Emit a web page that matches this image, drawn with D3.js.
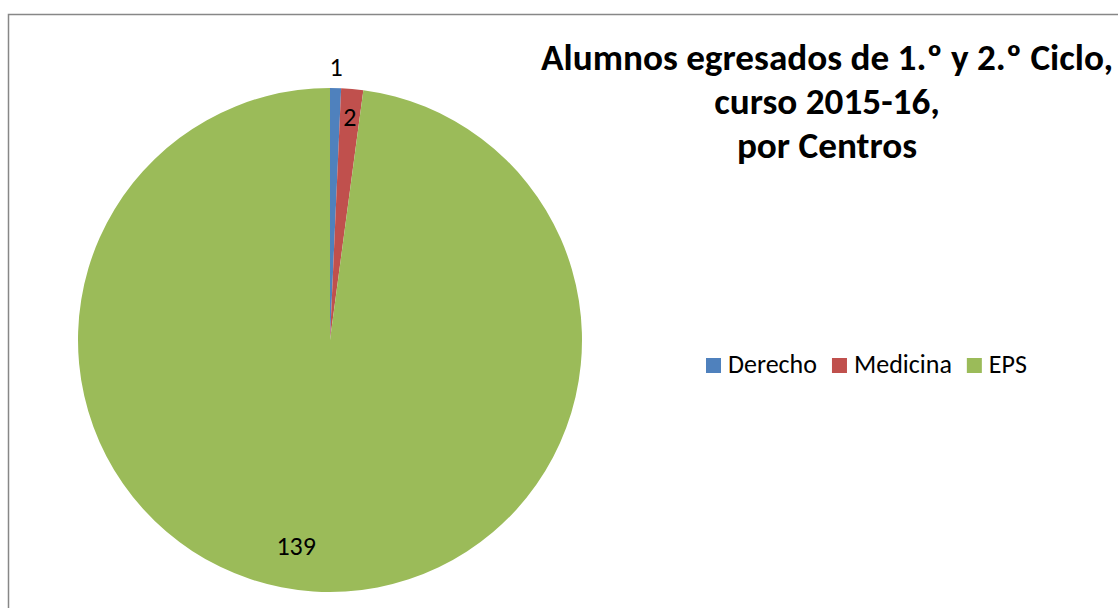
<!DOCTYPE html>
<html>
<head>
<meta charset="utf-8">
<script src="https://cdn.jsdelivr.net/npm/d3@7"></script>
<style>
  body { margin: 0; background: #fff; }
  svg { display: block; }
  text { font-family: Calibri, Carlito, Lato, "Open Sans", sans-serif; fill: #000; }
</style>
</head>
<body>
<div id="chart"></div>
<script>
// data
const centros = ["Derecho", "Medicina", "EPS"];
const egresados = [1, 2, 139];
const colores = ["#4F81BD", "#C0504D", "#9BBB59"];
const tituloLineas = ["Alumnos egresados de 1.º y 2.º Ciclo,", "curso 2015-16,", "por Centros"];

const W = 1118, H = 608;

const svg = d3.select("#chart")
    .append("svg")
    .attr("width", W)
    .attr("height", H);

// chart area border (runs off the right / bottom edge like the original)
svg.append("rect")
    .attr("x", 8.5).attr("y", 14.5)
    .attr("width", 1200).attr("height", 700)
    .attr("fill", "none")
    .attr("stroke", "#878787")
    .attr("stroke-width", 1.5);

const cx = 330, cy = 340, r = 252;

const pie = d3.pie().sort(null).value(d => d.v);
const arc = d3.arc().innerRadius(0).outerRadius(r);
const data = centros.map((c, i) => ({ c: c, v: egresados[i], col: colores[i] }));
const arcs = pie(data);

const g = svg.append("g").attr("transform", `translate(${cx},${cy})`);

g.selectAll("path")
    .data(arcs)
    .join("path")
    .attr("d", arc)
    .attr("fill", d => d.data.col);

// data labels: 1 sits outside, the others inside (excel "best fit")
const labelRadius = [r + 21, r * 0.89, r * 0.83];
const labelNudge = [0, 0, 5.5 * Math.PI / 180];  // angle offset
g.selectAll("text.lbl")
    .data(arcs)
    .join("text")
    .attr("class", "lbl")
    .attr("text-anchor", "middle")
    .attr("font-size", 26)
    .attr("x", (d, i) => Math.sin((d.startAngle + d.endAngle) / 2 + labelNudge[i]) * labelRadius[i])
    .attr("y", (d, i) => -Math.cos((d.startAngle + d.endAngle) / 2 + labelNudge[i]) * labelRadius[i] + 9)
    .text(d => d.data.v);

// title
const titulo = svg.append("g");
const tcx = 827;
const tt = titulo.selectAll("text")
    .data(tituloLineas)
    .join("text")
    .attr("x", tcx)
    .attr("y", (d, i) => 70 + i * 44)
    .attr("text-anchor", "middle")
    .attr("font-size", 36.5)
    .attr("font-weight", "bold")
    .text(d => d);
// fit to the width the original title has
const w0 = tt.nodes()[0].getComputedTextLength();
const f = 572 / w0;
tt.each(function() {
    const w = this.getComputedTextLength();
    d3.select(this).attr("textLength", w * f).attr("lengthAdjust", "spacingAndGlyphs");
});

// legend
const leg = svg.append("g");
let lx = 706;
centros.forEach((c, i) => {
    leg.append("rect")
        .attr("x", lx).attr("y", 358)
        .attr("width", 15).attr("height", 15)
        .attr("fill", colores[i]);
    const t = leg.append("text")
        .attr("x", lx + 22).attr("y", 373)
        .attr("font-size", 26)
        .text(c);
    lx += 22 + t.node().getComputedTextLength() + 15;
});
</script>
</body>
</html>
